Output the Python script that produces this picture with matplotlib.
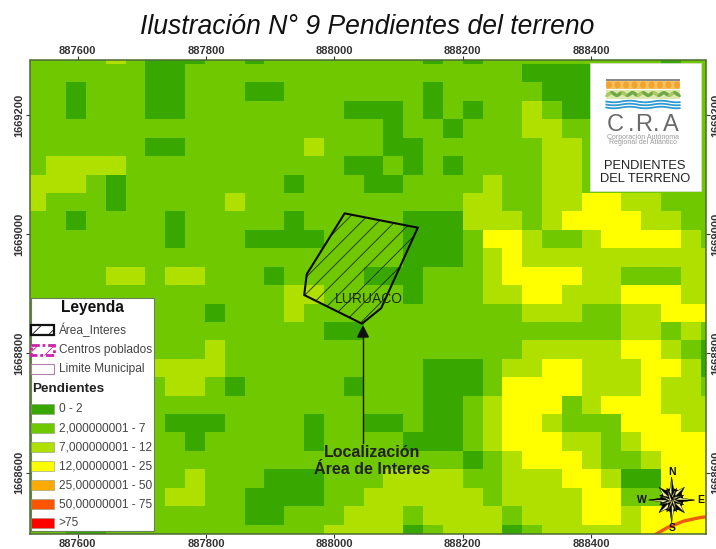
#script: plot.py
import numpy as np
import matplotlib
matplotlib.use('Agg')
import matplotlib.pyplot as plt
from matplotlib.colors import ListedColormap
from matplotlib.patches import Rectangle, Polygon, Ellipse, Circle

plt.rcParams['font.family'] = ['Liberation Sans', 'DejaVu Sans']
plt.rcParams['hatch.linewidth'] = 0.6

# slope classes by cell: 0=dark 1=mid 2=light 3=yellow, rows run north to south
rows = [
'11112 10001 10111 11111 01011 11111 11011',
'11111 10011 11111 11111 11111 00001 11111',
'11011 10011 10011 11111 01111 10001 11111',
'11011 10011 11111 10001 01011 21001 11111',
'11111 11111 11111 11101 10111 22111 11111',
'11111 10011 11112 11100 11111 12211 11111',
'12222 11111 11111 10010 10111 12211 11111',
'22210 11111 11101 11001 11121 12211 11111',
'21110 11111 21111 11111 11221 12233 22111',
'11011 11011 11101 11110 00222 12333 32211',
'11111 11011 10000 11110 00133 21123 33321',
'11111 11111 11111 11110 00123 22222 22222',
'11112 21221 11011 11000 11123 33322 11122',
'11111 11111 11122 11110 11122 33222 33322',
'11111 11110 11121 11111 11111 22211 22333',
'11111 11111 11111 00111 11111 11111 22121',
'11111 11112 11111 11111 11111 22222 33210',
'11111 12222 11111 11111 00012 23322 23320',
'11111 11221 01111 10111 00013 33322 23221',
'11111 11111 11111 11111 00123 33123 33222',
'11111 11000 11110 11001 00123 32111 33322',
'11111 11101 11110 11110 00123 33221 23333',
'11111 11111 11111 11111 11012 33321 12333',
'11111 11121 11000 11122 22112 22332 00333',
'11111 11221 10000 11222 22212 22233 11333',
'11111 11111 10011 12221 22221 22233 23333',
'11001 11111 11111 22220 12220 12222 23333',
]
x_ticks = [887600, 887800, 888000, 888200, 888400]
y_ticks = [1668600, 1668800, 1669000, 1669200]
area_x = [888016, 888130, 888073, 888043, 887953, 887957]
area_y = [1669035, 1669011, 1668876, 1668850, 1668898, 1668933]
road_x = [888495, 888519, 888545, 888571, 888590]
road_y = [1668493, 1668508, 1668519, 1668525, 1668527]
class_colors = ['#38A800', '#70C800', '#B0E000', '#FFFF00']
legend_labels = ['0 - 2', '2,000000001 - 7', '7,000000001 - 12', '12,00000001 - 25',
                 '25,00000001 - 50', '50,00000001 - 75', '>75']
legend_colors = ['#38A800', '#70C800', '#B0E000', '#FFFF00', '#FFAA00', '#FF5500', '#FF0000']

W, H = 716, 549
fig = plt.figure(figsize=(W/100, H/100), dpi=100)
ax = fig.add_axes([30/W, 1-534.3/H, 675.7/W, 473.8/H])

grid = np.array([[int(c) for c in r.replace(' ', '')] for r in rows])
cell = 30.9
x_edges = 887520.2 + cell*np.arange(grid.shape[1]+1)
y_edges = 1669316.4 - cell*np.arange(grid.shape[0]+1)
ax.pcolormesh(x_edges, y_edges, grid, cmap=ListedColormap(class_colors), vmin=-0.5, vmax=3.5)
ax.set_xlim(887525.7, 888578.7); ax.set_ylim(1668496.7, 1669291.4)

ax.fill(area_x, area_y, facecolor='none', edgecolor='#1a2a10', hatch='//', lw=0)
ax.fill(area_x, area_y, facecolor='none', edgecolor='#0a0a0a', lw=1.5)
ax.plot(road_x, road_y, color='#EE5A10', lw=2.4, solid_capstyle='butt')
ax.text(888054, 1668892, 'LURUACO', fontsize=10, ha='center', va='center', color='#1a2a10')

ax.set_xticks(x_ticks); ax.set_xticklabels([str(v) for v in x_ticks], fontweight='bold')
ax.set_yticks(y_ticks); ax.set_yticklabels([str(v) for v in y_ticks], fontweight='bold', rotation=90, va='center')
ax.tick_params(top=True, labeltop=True, right=True, labelright=True, length=3.2, width=0.8,
               color='#333333', labelsize=8, labelcolor='#333333')
ax.tick_params(axis='x', pad=0)
ax.tick_params(axis='y', pad=1)
for s in ax.spines.values(): s.set_color('#4c6a35'); s.set_linewidth(1.1)

fig.text(367.5/W, 1-27/H, 'Ilustración N° 9 Pendientes del terreno', fontsize=19.1, style='italic',
         ha='center', va='center', color='#111111')

# overlay in pixels for the map furniture
ov = fig.add_axes([0, 0, 1, 1]); ov.set_xlim(0, W); ov.set_ylim(H, 0); ov.axis('off')

# arrow and location text
ov.plot([363, 363], [443, 336], color='#111111', lw=1)
ov.add_patch(Polygon([[357.7, 337], [368.3, 337], [363, 326.5]], color='#111111'))
ov.text(372.5, 452.7, 'Localización', fontsize=11.5, fontweight='bold', ha='center', va='center', color='#222222')
ov.text(372.5, 470, 'Área de Interes', fontsize=11.5, fontweight='bold', ha='center', va='center', color='#222222')

# legend panel
ov.add_patch(Rectangle((30.7, 298.3), 123.3, 232.7, fc='white', ec='#66805a', lw=0.8))
ov.text(92.7, 307.5, 'Leyenda', fontsize=11.2, fontweight='bold', ha='center', va='center', color='#111111')
ov.add_patch(Rectangle((31, 325.3), 23, 10, fc='white', ec='#111111', lw=1.6, hatch='//'))
ov.add_patch(Rectangle((31, 345), 23, 10, fc='white', ec='#CC22AA', lw=2, ls=(0, (3, 1, 1, 1)), hatch='//'))
ov.add_patch(Rectangle((31, 364), 23, 10, fc='white', ec='#B080B0', lw=0.8))
for y, s in zip([330.3, 350, 369], ['Área_Interes', 'Centros poblados', 'Limite Municipal']):
    ov.text(58.7, y, s, fontsize=8.55, va='center', color='#444444')
ov.text(32.3, 388.7, 'Pendientes', fontsize=9.7, fontweight='bold', va='center', color='#222222')
for i, (s, c) in enumerate(zip(legend_labels, legend_colors)):
    y = 409.3 + 19*i
    ov.add_patch(Rectangle((31, y-5), 23, 10, fc=c, ec='#8a9a80', lw=0.4))
    ov.text(58.7, y, s, fontsize=8.55, va='center', color='#444444')

# logo box
ov.add_patch(Rectangle((590.3, 63.3), 110.4, 127.4, fc='white', ec='#dddddd', lw=0.5))
ov.add_patch(Rectangle((606.3, 81), 73.4, 7.5, fc='#F4C060', ec='none'))
ov.add_patch(Rectangle((606.3, 78.7), 73.4, 2, fc='#8a8a8a', ec='none'))
for x in np.linspace(609, 677, 9):
    ov.add_patch(Ellipse((x, 85), 6, 7, fc='#F2A52E', ec='none'))
ov.add_patch(Rectangle((606.3, 89.5), 73.4, 9.5, fc='#DDE8B0', ec='none'))
for i, x in enumerate(np.linspace(609, 677, 14)):
    ang = 35 if i % 2 else -35
    ov.add_patch(Ellipse((x, 94), 9, 3.6, angle=ang, fc='#6FA845' if i % 3 else '#A9C860', ec='none'))
xw = np.linspace(606.3, 679.7, 60)
for y0 in [101.5, 104.5, 107.5]:
    ov.plot(xw, y0+0.8*np.sin((xw-606)/5), color='#2E9AD0', lw=1.3)
for s, x in [('C', 615.5), ('.', 630.7), ('R', 643.3), ('.', 655.7), ('A', 670.7)]:
    ov.text(x, 131, s, fontsize=17, ha='center', va='baseline', color='#6a6a6a')
ov.text(642.7, 137.3, 'Corporación Autónoma', fontsize=5, ha='center', va='center', color='#999999')
ov.text(642.7, 143, 'Regional del Atlántico', fontsize=5, ha='center', va='center', color='#999999')
ov.text(645.2, 166, 'PENDIENTES', fontsize=9.3, ha='center', va='center', color='#222222')
ov.text(645.2, 179.3, 'DEL TERRENO', fontsize=9.3, ha='center', va='center', color='#222222')

# north arrow
cx, cy = 671.7, 500
ov.add_patch(Circle((cx, cy), 10.5, fc='none', ec='k', lw=1.6))
for ang, r, w in [(45, 18, 6), (135, 18, 6), (225, 18, 6), (315, 18, 6),
                  (0, 23, 3.5), (90, 23, 3.5), (180, 23, 3.5), (270, 23, 3.5),
                  (22, 13, 2), (68, 13, 2), (112, 13, 2), (158, 13, 2),
                  (202, 13, 2), (248, 13, 2), (292, 13, 2), (338, 13, 2)]:
    a = np.deg2rad(ang)
    tip = [cx+r*np.sin(a), cy-r*np.cos(a)]
    s1 = [cx+w*np.cos(a), cy+w*np.sin(a)]
    s2 = [cx-w*np.cos(a), cy-w*np.sin(a)]
    ov.add_patch(Polygon([[cx, cy], s1, tip], fc='k', ec='k', lw=0.3))
    ov.add_patch(Polygon([[cx, cy], s2, tip], fc='#F2F0A0', ec='k', lw=0.3))
for s, x, y in [('N', 671.7, 471.7), ('S', 671.7, 528.3), ('W', 641.7, 500), ('E', 700.7, 500)]:
    ov.text(x, y, s, fontsize=7.5, fontweight='bold', ha='center', va='center', color='#111111')

fig.savefig('out.png', dpi=100)
